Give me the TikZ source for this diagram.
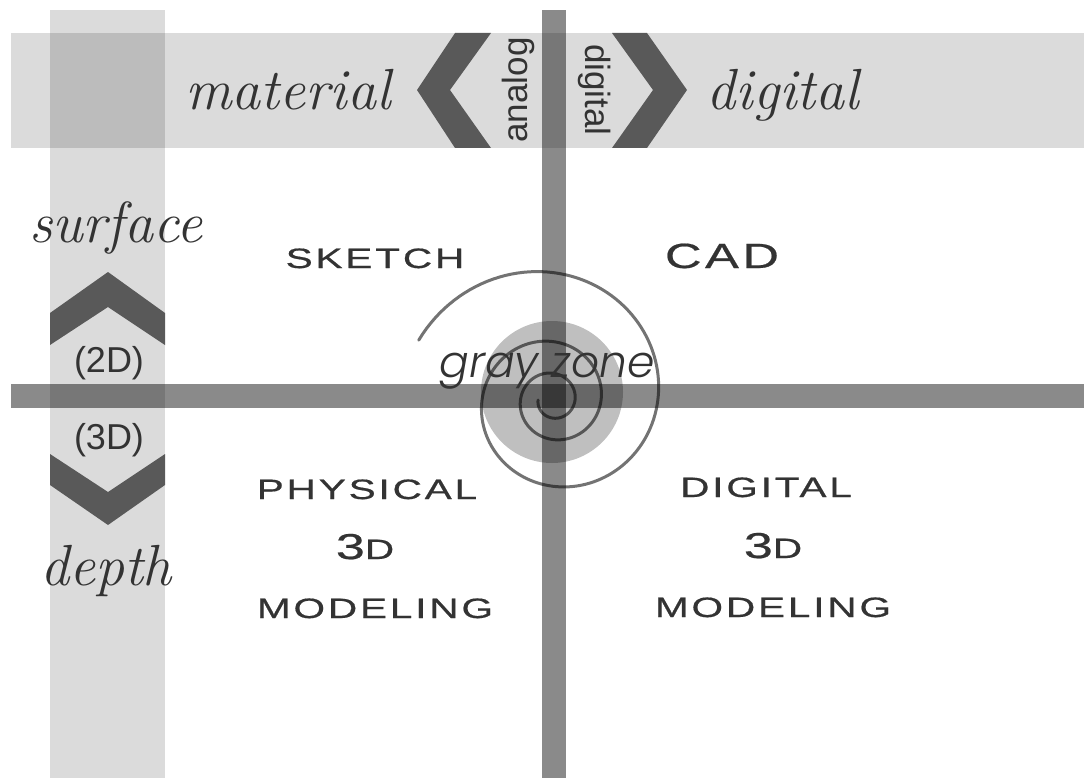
\documentclass[tikz,border=0pt]{standalone}
\usepackage{fontspec}
\newfontfamily\capsfont[FakeStretch=1.45,LetterSpace=10,FakeBold=0.6]{Liberation Sans}
\newfontfamily\plainfont{Liberation Sans}
\newfontfamily\zonefont{Poppins Light Italic}
\definecolor{ink}{HTML}{333333}
\tikzset{
  band/.style={fill=black,opacity=0.14},
  bar/.style={fill=black,opacity=0.46},
  chevron/.style={fill=black!65},
  script/.style={text=ink,font=\itshape\fontsize{58}{60}\selectfont,anchor=base,inner sep=0pt},
  quadrant/.style={text=ink,font=\capsfont\fontsize{28}{30}\selectfont,anchor=base,inner sep=0pt},
  dimlabel/.style={text=ink,font=\plainfont\fontsize{36}{38}\selectfont,anchor=base,inner sep=0pt},
  sidelabel/.style={text=ink,font=\plainfont\fontsize{35}{36}\selectfont,inner sep=0pt},
  spiralline/.style={draw=black,opacity=0.55,line width=3pt,line cap=round},
}

\begin{document}
\begin{tikzpicture}[x=1pt,y=-1pt]
\useasboundingbox (0,0) rectangle (1084,778);

% Bands
\fill[band] (11,33) rectangle (1084,148);
\fill[band] (50,10) rectangle (165,778);

% Chevrons
\fill[chevron] (455,33) -- (491,33) -- (450,90) -- (491,148) -- (455,148) -- (417,90) -- cycle;
\fill[chevron] (612,33) -- (647,33) -- (687,90) -- (647,148) -- (612,148) -- (653,90) -- cycle;
\fill[chevron] (50,313) -- (108,272) -- (165,313) -- (165,345) -- (108,307) -- (50,345) -- cycle;
\fill[chevron] (50,454) -- (108,492) -- (165,454) -- (165,485) -- (108,525) -- (50,485) -- cycle;

% Axes
\fill[bar] (542,10) rectangle (566,778);
\fill[bar] (11,384) rectangle (1084,408);

% Gray zone
\fill[black,opacity=0.25] (552,392) circle (71);
\draw[spiralline] plot[domain=156:-900,samples=400,variable=\t]
  ({553+147*exp(0.002166*(\t-156))*cos(\t)},{400-147*exp(0.002166*(\t-156))*sin(\t)});
\node[text=ink,font=\zonefont\fontsize{44}{46}\selectfont,anchor=base,inner sep=0pt] (zone) at (547,377) {gray zone};

% Axis words
\node[script] (material) at (288,110) {material};
\node[script] (digital) at (783,110) {digital};
\node[script] (surface) at (116,243) {surface};
\node[script] (depth) at (106,585) {depth};
\node[sidelabel,rotate=90] (analog) at (518,90) {analog};
\node[sidelabel,rotate=-90] (digitalside) at (595,90) {digital};
\node[dimlabel] (twod) at (109,372) {(2D)};
\node[dimlabel] (threed) at (109,449) {(3D)};

% Quadrants
\node[quadrant] (sketch) at (375,268) {SKETCH};
\node[quadrant,font=\capsfont\fontsize{35}{37}\selectfont] (cad) at (722,268) {CAD};
\node[quadrant] (physical) at (367,499) {PHYSICAL};
\node[quadrant] (physthree) at (365,559) {{\fontsize{36}{38}\selectfont 3}D};
\node[quadrant] (physmodel) at (375,618) {MODELING};
\node[quadrant] (digital3d) at (766,497) {DIGITAL};
\node[quadrant] (digithree) at (773,558) {{\fontsize{36}{38}\selectfont 3}D};
\node[quadrant] (digimodel) at (773,617) {MODELING};

\end{tikzpicture}
\end{document}
